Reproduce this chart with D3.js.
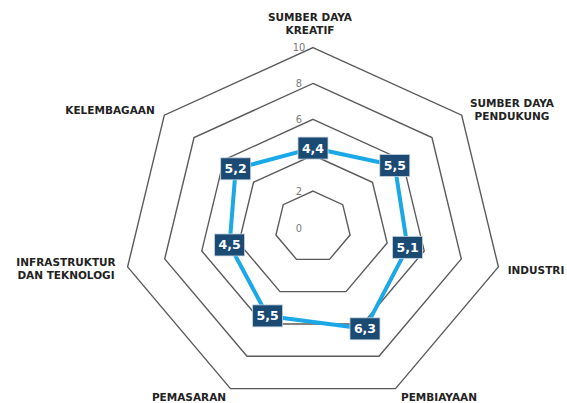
<!DOCTYPE html>
<html>
<head>
<meta charset="utf-8">
<script src="https://cdn.jsdelivr.net/npm/d3@7"></script>
<style>
  body { margin: 0; background: #fff; }
  svg { display: block; }
</style>
</head>
<body>
<div id="chart"></div>
<script>
const categories = [
  ["SUMBER DAYA", "KREATIF"],
  ["SUMBER DAYA", "PENDUKUNG"],
  ["INDUSTRI"],
  ["PEMBIAYAAN"],
  ["PEMASARAN"],
  ["INFRASTRUKTUR", "DAN TEKNOLOGI"],
  ["KELEMBAGAAN"],
];
const values = [4.4, 5.5, 5.1, 6.3, 5.5, 4.5, 5.2];
const valueLabels = ["4,4", "5,5", "5,1", "6,3", "5,5", "4,5", "5,2"];
const ticks = [2, 4, 6, 8, 10];
// "4" sits hidden behind the 4,4 box in the original, so it is left out
const tickLabels = ["0", "2", "6", "8", "10"];

const width = 567;
const height = 403;
const cx = 313;
const cy = 227;
const stretchX = 1.06; // source image is slightly wider than tall

const svg = d3
  .select("#chart")
  .append("svg")
  .attr("width", width)
  .attr("height", height);

const r = d3.scaleLinear().domain([0, 10]).range([0, 179.4]);
const angle = d3
  .scaleLinear()
  .domain([0, categories.length])
  .range([0, 2 * Math.PI]);

const px = (i, v) => cx + r(v) * Math.sin(angle(i)) * stretchX;
const py = (i, v) => cy - r(v) * Math.cos(angle(i));

const line = d3.line().curve(d3.curveLinearClosed);

// Grid rings
svg
  .append("g")
  .selectAll("path")
  .data(ticks)
  .join("path")
  .attr("d", (t) => line(categories.map((_, i) => [px(i, t), py(i, t)])))
  .attr("fill", "none")
  .attr("stroke", "#5a5a5a")
  .attr("stroke-width", 1.4);

// Tick labels along the top axis
svg
  .append("g")
  .selectAll("text")
  .data(tickLabels)
  .join("text")
  .attr("x", cx - 14)
  .attr("y", (d) => py(0, +d) + (d === "0" ? 1 : 0))
  .attr("dy", "0.35em")
  .attr("text-anchor", "middle")
  .attr("fill", "#7a7a7a")
  .style("font-family", "'DejaVu Sans Condensed', 'DejaVu Sans', sans-serif")
  .style("font-size", "11px")
  .text((d) => d);

// Data line
svg
  .append("path")
  .attr("d", line(values.map((v, i) => [px(i, v), py(i, v)])))
  .attr("fill", "none")
  .attr("stroke", "#1ba8e8")
  .attr("stroke-width", 4)
  .attr("stroke-linejoin", "round");

// Value boxes
const box = svg
  .append("g")
  .selectAll("g")
  .data(values)
  .join("g")
  .attr("transform", (v, i) => `translate(${px(i, v)},${py(i, v)})`);

box
  .append("rect")
  .attr("x", -15)
  .attr("y", -11)
  .attr("width", 30)
  .attr("height", 22)
  .attr("fill", "#1b4a73")
  .attr("stroke", "#c9d6e2")
  .attr("stroke-width", 0.8);

box
  .append("text")
  .attr("dy", "0.36em")
  .attr("text-anchor", "middle")
  .attr("fill", "#fff")
  .style("font-family", "'DejaVu Sans', sans-serif")
  .style("font-weight", "bold")
  .style("font-size", "12.5px")
  .text((v, i) => valueLabels[i]);

// Category labels
const labelPos = [
  [310, 17],
  [512, 103],
  [536, 270],
  [439, 397],
  [189, 397],
  [66, 262],
  [110, 110],
];

const lab = svg
  .append("g")
  .selectAll("text")
  .data(categories)
  .join("text")
  .attr("x", (d, i) => labelPos[i][0])
  .attr("y", (d, i) => labelPos[i][1])
  .attr("text-anchor", "middle")
  .attr("fill", "#222")
  .style("font-family", "'DejaVu Sans', sans-serif")
  .style("font-weight", "bold")
  .style("font-size", "10.5px");

lab
  .selectAll("tspan")
  .data((d) => d)
  .join("tspan")
  .attr("x", function () {
    return d3.select(this.parentNode).attr("x");
  })
  .attr("dy", (d, j) => (j === 0 ? "0.35em" : "1.3em"))
  .text((d) => d);
</script>
</body>
</html>
